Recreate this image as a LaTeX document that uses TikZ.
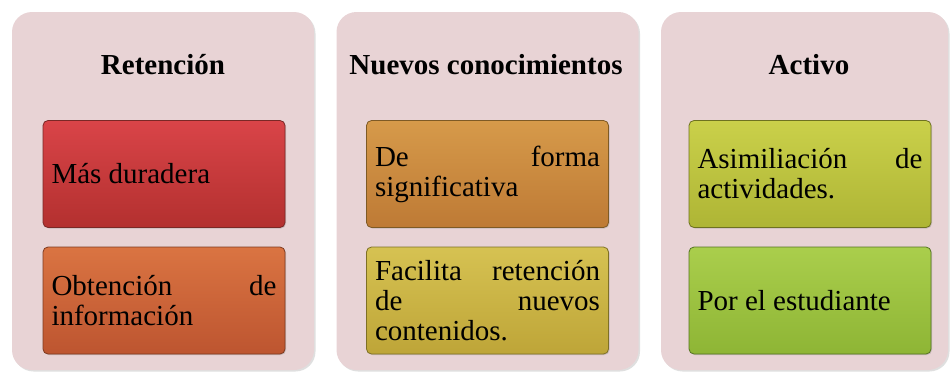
\documentclass[tikz,border=0pt]{standalone}
\usepackage{fontspec}
\setmainfont{Liberation Serif}
\usetikzlibrary{shadows}
\definecolor{panelbg}{HTML}{E8D3D5}
\definecolor{rT}{HTML}{D94448}\definecolor{rB}{HTML}{B3302F}\definecolor{rD}{HTML}{7A2826}
\definecolor{oT}{HTML}{DA7442}\definecolor{oB}{HTML}{BD5530}\definecolor{oD}{HTML}{7E3A20}
\definecolor{aT}{HTML}{D69A4A}\definecolor{aB}{HTML}{BE7A35}\definecolor{aD}{HTML}{7E5A25}
\definecolor{yT}{HTML}{D6C252}\definecolor{yB}{HTML}{BEA538}\definecolor{yD}{HTML}{7E7025}
\definecolor{lT}{HTML}{CAD04A}\definecolor{lB}{HTML}{AEB535}\definecolor{lD}{HTML}{6E7220}
\definecolor{gT}{HTML}{AACE4C}\definecolor{gB}{HTML}{8EB535}\definecolor{gD}{HTML}{557422}
\newcommand\nohyphset{\hyphenpenalty=10000\relax\exhyphenpenalty=10000\relax\tolerance=10000\relax\lefthyphenmin=64\relax}
\tikzset{
  panel/.style={fill=panelbg, rounded corners=20pt, minimum width=302pt, minimum height=358pt,
    drop shadow={shadow xshift=1.5pt, shadow yshift=-1.5pt, opacity=0.25}},
  ptitle/.style={font=\fontsize{29}{32}\selectfont\bfseries, inner sep=0pt},
  itembox/.style={rounded corners=5pt, minimum width=242pt, minimum height=107pt,
    text width=225pt, inner xsep=8.5pt, align=justify, line width=0.8pt,
    font=\fontsize{29}{30}\selectfont, execute at begin node=\nohyphset,
    drop shadow={shadow xshift=1pt, shadow yshift=-1pt, opacity=0.3}},
}
\begin{document}
\begin{tikzpicture}[x=1pt,y=-1pt]
\useasboundingbox (0,0) rectangle (952,373);
\node[panel] (p1) at (163,191) {};
\node[panel] (p2) at (487.5,191) {};
\node[panel, minimum width=287pt] (p3) at (804.5,191) {};
\node[ptitle] (t1) at (163,65) {Retención};
\node[ptitle] (t2) at (486,65) {Nuevos conocimientos};
\node[ptitle] (t3) at (809,65) {Activo};
\node[itembox, top color=rT, bottom color=rB, draw=rD] (b11) at (164,174) {Más duradera};
\node[itembox, top color=oT, bottom color=oB, draw=oD] (b12) at (164,300.5) {Obtención de información};
\node[itembox, top color=aT, bottom color=aB, draw=aD] (b21) at (487.5,174) {De forma significativa};
\node[itembox, top color=yT, bottom color=yB, draw=yD] (b22) at (487.5,300.5) {Facilita retención de nuevos contenidos.};
\node[itembox, minimum width=240pt, top color=lT, bottom color=lB, draw=lD] (b31) at (810,174) {Asimiliación de actividades.};
\node[itembox, minimum width=240pt, top color=gT, bottom color=gB, draw=gD] (b32) at (810,300.5) {Por el estudiante};
\end{tikzpicture}
\end{document}
